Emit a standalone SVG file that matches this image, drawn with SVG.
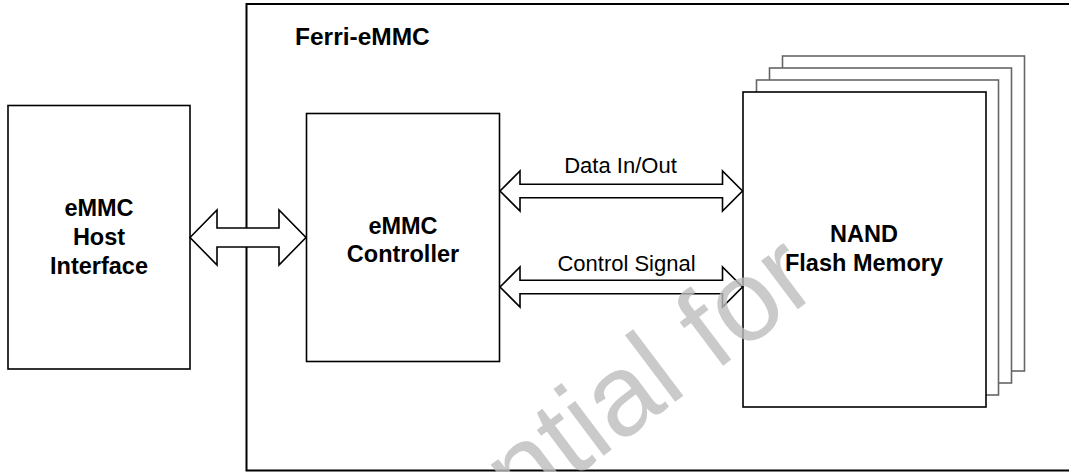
<svg xmlns="http://www.w3.org/2000/svg" width="1069" height="472" viewBox="0 0 1069 472">
<style>
.box{fill:#fff;stroke:#000;stroke-width:1.6}
.sheet{fill:#fff;stroke:#666;stroke-width:1.6}
.arr{fill:#fff;stroke:#000;stroke-width:1.6;stroke-linejoin:miter}
.b{font-family:"Liberation Sans",Arial,sans-serif;font-weight:bold;font-size:23.5px;fill:#000;text-anchor:middle}
.r{font-family:"Liberation Sans",Arial,sans-serif;font-size:22px;fill:#000;text-anchor:middle}
.wm{font-family:"Liberation Sans",Arial,sans-serif;font-size:115px;fill:#bdbdbd;fill-opacity:0.8}
</style>
<rect width="1069" height="472" fill="#fff"/>
<g id="ferri-emmc">
<rect x="246.5" y="4" width="830" height="466.5" fill="#fff" stroke="#000" stroke-width="2"/>
<text x="295" y="44.5" font-family="'Liberation Sans',Arial,sans-serif" font-weight="bold" font-size="24.5">Ferri-eMMC</text>
</g>
<g id="host-interface">
<rect class="box" x="8" y="105.5" width="182" height="263.5"/>
<text class="b" x="99" y="215.5">eMMC</text>
<text class="b" x="99" y="245">Host</text>
<text class="b" x="99" y="274">Interface</text>
</g>
<g id="controller">
<rect class="box" x="306.5" y="113.5" width="193" height="248"/>
<text class="b" x="403" y="234">eMMC</text>
<text class="b" x="403" y="262">Controller</text>
</g>
<g id="nand-flash">
<rect class="sheet" x="782.5" y="56" width="242" height="315"/>
<rect class="sheet" x="769.5" y="68" width="242" height="315"/>
<rect class="sheet" x="756.5" y="80" width="242" height="315"/>
<rect class="box" x="743" y="92" width="243" height="315"/>
<text class="b" x="864" y="241.5">NAND</text>
<text class="b" x="864" y="270.5">Flash Memory</text>
</g>
<g id="connectors">
<path class="arr" d="M190,237.5 L217,210 L217,228 L279,228 L279,210 L306,237.5 L279,265 L279,247 L217,247 L217,265 Z"/>
<path class="arr" d="M500,191 L520,171 L520,184.3 L722.5,184.3 L722.5,171 L742.5,191 L722.5,211 L722.5,197.7 L520,197.7 L520,211 Z"/>
<path class="arr" d="M500,287 L520,267 L520,280.3 L722.5,280.3 L722.5,267 L742.5,287 L722.5,307 L722.5,293.7 L520,293.7 L520,307 Z"/>
<text class="r" x="620.5" y="173">Data In/Out</text>
<text class="r" x="626.5" y="270.5">Control Signal</text>
</g>
<text class="wm" x="521" y="518" transform="rotate(-37 521 518)">ntial for</text>
</svg>
